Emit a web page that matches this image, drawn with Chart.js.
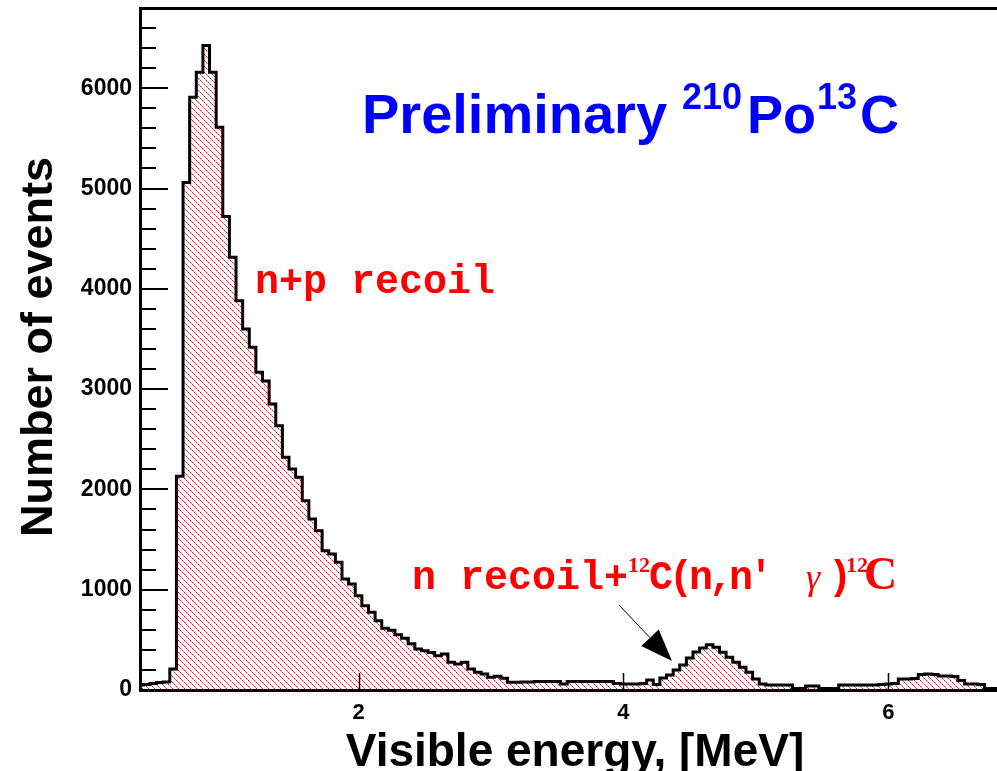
<!DOCTYPE html>
<html>
<head>
<meta charset="utf-8">
<script src="https://cdn.jsdelivr.net/npm/chart.js@4"></script>
<style>
  body { margin: 0; background: #fff; }
  canvas { display: block; }
</style>
</head>
<body>
<canvas id="spectrum" width="997" height="771"></canvas>
<script>
// bin centres, MeV (0.05 MeV bins)
const energies = [
  0.35, 0.40, 0.45, 0.50, 0.55, 0.60, 0.65, 0.70, 0.75, 0.80,
  0.85, 0.90, 0.95, 1.00, 1.05, 1.10, 1.15, 1.20, 1.25, 1.30,
  1.35, 1.40, 1.45, 1.50, 1.55, 1.60, 1.65, 1.70, 1.75, 1.80,
  1.85, 1.90, 1.95, 2.00, 2.05, 2.10, 2.15, 2.20, 2.25, 2.30,
  2.35, 2.40, 2.45, 2.50, 2.55, 2.60, 2.65, 2.70, 2.75, 2.80,
  2.85, 2.90, 2.95, 3.00, 3.05, 3.10, 3.15, 3.20, 3.25, 3.30,
  3.35, 3.40, 3.45, 3.50, 3.55, 3.60, 3.65, 3.70, 3.75, 3.80,
  3.85, 3.90, 3.95, 4.00, 4.05, 4.10, 4.15, 4.20, 4.25, 4.30,
  4.35, 4.40, 4.45, 4.50, 4.55, 4.60, 4.65, 4.70, 4.75, 4.80,
  4.85, 4.90, 4.95, 5.00, 5.05, 5.10, 5.15, 5.20, 5.25, 5.30,
  5.35, 5.40, 5.45, 5.50, 5.55, 5.60, 5.65, 5.70, 5.75, 5.80,
  5.85, 5.90, 5.95, 6.00, 6.05, 6.10, 6.15, 6.20, 6.25, 6.30,
  6.35, 6.40, 6.45, 6.50, 6.55, 6.60, 6.65, 6.70, 6.75, 6.80,
  6.85
];

// number of events per bin
const counts = [
  50, 55, 65, 75, 80, 210, 2130, 5060, 5910, 6160,
  6425, 6160, 5610, 4720, 4315, 3880, 3600, 3417, 3167, 3080,
  2851, 2635, 2320, 2203, 2121, 1887, 1705, 1588, 1389, 1356,
  1273, 1107, 1057, 940, 840, 775, 690, 615, 595, 550,
  515, 460, 410, 392, 375, 342, 359, 276, 259, 276,
  209, 176, 160, 127, 137, 117, 77, 77, 80, 80,
  85, 85, 85, 85, 60, 85, 85, 85, 85, 85,
  85, 85, 65, 60, 60, 60, 65, 100, 55, 120,
  150, 200, 250, 320, 380, 420, 450, 426, 376, 326,
  276, 226, 176, 110, 60, 50, 50, 50, 50, 15,
  15, 40, 40, 15, 15, 15, 50, 50, 50, 50,
  50, 50, 55, 60, 65, 110, 110, 115, 155, 160,
  155, 140, 140, 135, 95, 60, 60, 55, 15, 15,
  15
];

const xTickValues = [2, 4, 6];
const yTickValues = [0, 1000, 2000, 3000, 4000, 5000, 6000];
const xRange = [0.35, 6.82];
const yRange = [0, 6800];
const yMinorStep = 200;

// red "\\\" hatch like the ROOT fill style
function makeHatch() {
  const tile = document.createElement('canvas');
  tile.width = 6;
  tile.height = 6;
  const g = tile.getContext('2d');
  const alphas = [0.95, 0.6, 0.95, 0.6, 0.95, 0.6];
  for (let i = 0; i < 6; i++) {
    g.fillStyle = `rgba(255,0,0,${alphas[i]})`;
    g.fillRect(i, i, 1, 1);
  }
  return g.createPattern(tile, 'repeat');
}

function drawText(ctx, text, x, y, font, color) {
  ctx.font = font;
  ctx.fillStyle = color;
  ctx.fillText(text, x, y);
  return x + ctx.measureText(text).width;
}

const framePlugin = {
  id: 'frame',
  afterDatasetsDraw(chart) {
    const { ctx, chartArea, scales } = chart;
    const x = scales.x;
    const y = scales.y;
    ctx.save();
    ctx.strokeStyle = '#000';

    // inward y ticks, major + minor
    ctx.lineWidth = 2;
    ctx.beginPath();
    for (let v = yRange[0]; v <= yRange[1]; v += yMinorStep) {
      const py = Math.round(y.getPixelForValue(v));
      const len = v % 1000 === 0 ? 28 : 16;
      ctx.moveTo(chartArea.left, py);
      ctx.lineTo(chartArea.left + len, py);
    }
    ctx.stroke();

    // inward x ticks
    ctx.lineWidth = 1.5;
    ctx.beginPath();
    xTickValues.forEach(v => {
      const px = Math.round(x.getPixelForValue(v)) + 0.5;
      ctx.moveTo(px, chartArea.bottom);
      ctx.lineTo(px, chartArea.bottom - 17);
    });
    ctx.stroke();

    // top frame line
    ctx.lineWidth = 3;
    ctx.beginPath();
    ctx.moveTo(chartArea.left, chartArea.top + 0.5);
    ctx.lineTo(chartArea.right, chartArea.top + 0.5);
    ctx.stroke();
    ctx.restore();
  },
  afterDraw(chart) {
    const { ctx } = chart;
    ctx.save();
    ctx.textBaseline = 'alphabetic';

    // axis titles
    ctx.fillStyle = '#000';
    ctx.textAlign = 'center';
    ctx.font = 'bold 46px "Liberation Sans", Arial, sans-serif';
    ctx.fillText('Visible energy, [MeV]', 575, 766);
    ctx.save();
    ctx.translate(52, 347);
    ctx.rotate(-Math.PI / 2);
    ctx.font = 'bold 45px "Liberation Sans", Arial, sans-serif';
    ctx.fillText('Number of events', 0, 0);
    ctx.restore();
    ctx.textAlign = 'left';

    // header
    const blue = '#0000ff';
    const sup = 'bold 36px "Liberation Sans", Arial, sans-serif';
    drawText(ctx, 'Preliminary', 362, 133, 'bold 56px "Liberation Sans", Arial, sans-serif', blue);
    drawText(ctx, '210', 682, 109, sup, blue);
    drawText(ctx, 'Po', 747, 133, 'bold 54px "Liberation Sans", Arial, sans-serif', blue);
    drawText(ctx, '13', 817, 109, sup, blue);
    drawText(ctx, 'C', 860, 133, 'bold 54px "Liberation Sans", Arial, sans-serif', blue);

    // annotations
    const red = '#ff0000';
    const mono = 'bold 40px "Liberation Mono", "Courier New", monospace';
    const supSerif = 'bold 22px "Liberation Serif", serif';
    drawText(ctx, 'n+p recoil', 255, 293, mono, red);

    drawText(ctx, 'n recoil+', 412, 589, mono, red);
    drawText(ctx, '12', 628, 572, supSerif, red);
    ctx.letterSpacing = '-4px';
    drawText(ctx, "C(n,n'", 649, 589, mono, red);
    ctx.letterSpacing = '0px';
    drawText(ctx, '\u03b3', 806, 589, 'italic 36px "Liberation Serif", serif', red);
    drawText(ctx, ')', 828, 589, mono, red);
    drawText(ctx, '12', 846, 572, supSerif, red);
    drawText(ctx, 'C', 864, 589, 'bold 46px "Liberation Serif", serif', red);

    // arrow to the 4.4 MeV bump
    const x0 = 619, y0 = 605, x1 = 672, y1 = 661;
    const ang = Math.atan2(y1 - y0, x1 - x0);
    const headLen = 32, headHalf = 12;
    const bx = x1 - headLen * Math.cos(ang);
    const by = y1 - headLen * Math.sin(ang);
    ctx.strokeStyle = '#000';
    ctx.lineWidth = 1;
    ctx.beginPath();
    ctx.moveTo(x0, y0);
    ctx.lineTo(bx, by);
    ctx.stroke();
    ctx.fillStyle = '#000';
    ctx.beginPath();
    ctx.moveTo(x1, y1);
    ctx.lineTo(bx + headHalf * Math.sin(ang), by - headHalf * Math.cos(ang));
    ctx.lineTo(bx - headHalf * Math.sin(ang), by + headHalf * Math.cos(ang));
    ctx.closePath();
    ctx.fill();
    ctx.restore();
  }
};

function renderSpectrum() {
  const canvas = document.getElementById('spectrum');
  const points = energies.map((e, i) => ({ x: e, y: counts[i] }));
  const tickFont = { family: '"Liberation Sans", Arial, sans-serif', size: 23, weight: 'bold' };

  new Chart(canvas, {
    type: 'line',
    data: {
      datasets: [
        {
          data: points,
          stepped: 'middle',
          borderColor: '#000',
          borderWidth: 3,
          pointRadius: 0,
          fill: 'origin',
          backgroundColor: makeHatch(),
        },
      ],
    },
    options: {
      responsive: false,
      animation: false,
      events: [],
      layout: {
        padding: { top: 8, right: 0, left: 0, bottom: 0 },
      },
      plugins: {
        legend: { display: false },
        tooltip: { enabled: false },
      },
      scales: {
        x: {
          type: 'linear',
          min: xRange[0],
          max: xRange[1],
          afterBuildTicks: scale => {
            scale.ticks = xTickValues.map(v => ({ value: v }));
          },
          afterFit: scale => {
            scale.height = 81;
            scale.paddingLeft = 0;
            scale.paddingRight = 0;
          },
          grid: { display: false, drawTicks: false },
          border: { display: true, color: '#000', width: 3 },
          ticks: {
            color: '#000',
            font: { ...tickFont, size: 22 },
            padding: 10,
            maxRotation: 0,
            autoSkip: false,
            callback: value => String(value),
          },
        },
        y: {
          min: yRange[0],
          max: yRange[1],
          afterBuildTicks: scale => {
            scale.ticks = yTickValues.map(v => ({ value: v }));
          },
          afterFit: scale => {
            scale.width = 140;
            scale.paddingTop = 0;
            scale.paddingBottom = 0;
          },
          grid: { display: false, drawTicks: false },
          border: { display: true, color: '#000', width: 3 },
          ticks: {
            color: '#000',
            font: tickFont,
            padding: 8,
            autoSkip: false,
            callback: value => String(value),
          },
        },
      },
    },
    plugins: [framePlugin],
  });
}

window.addEventListener('DOMContentLoaded', renderSpectrum);
</script>
</body>
</html>
